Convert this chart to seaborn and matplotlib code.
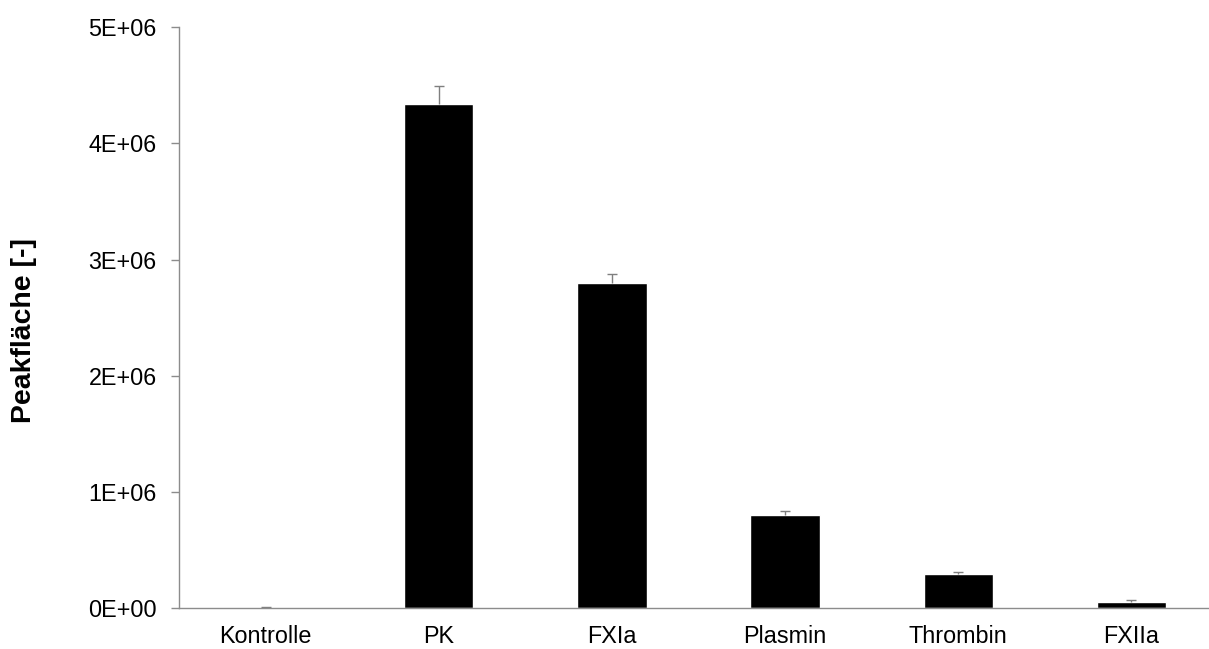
import matplotlib
matplotlib.use("Agg")
import matplotlib.pyplot as plt
from matplotlib.ticker import FixedLocator, FuncFormatter
import numpy as np
import pandas as pd
import seaborn as sns

# Peak areas per protease (mean and upper standard deviation)
categories = ["Kontrolle", "PK", "FXIa", "Plasmin", "Thrombin", "FXIIa"]
peak_area = [3.0e3, 4.338e6, 2.795e6, 0.803e6, 0.295e6, 0.057e6]
peak_sd = [5.0e3, 0.157e6, 0.078e6, 0.037e6, 0.015e6, 0.012e6]
y_ticks = [0, 1e6, 2e6, 3e6, 4e6, 5e6]

sns.set_theme(style="white")
plt.rcParams["font.family"] = ["Liberation Sans", "DejaVu Sans"]

df = pd.DataFrame({"Probe": categories, "Peakfläche": peak_area, "SD": peak_sd})

fig = plt.figure(figsize=(12.09, 6.49), dpi=100)
ax = fig.add_axes([179 / 1209, (649 - 608.3) / 649, (1218 - 179) / 1209, (608.3 - 27) / 649])

sns.barplot(data=df, x="Probe", y="Peakfläche", color="black", width=0.4,
            errorbar=None, saturation=1, ax=ax)

# upper error bars only
x_pos = np.arange(len(categories))
eb = ax.errorbar(x_pos, df["Peakfläche"], yerr=[np.zeros(len(df)), df["SD"]],
                 fmt="none", ecolor="#7f7f7f", elinewidth=1.0, capsize=3.6, capthick=1.0)
eb[1][0].set_visible(False)  # hide the cap at the bar top

axis_grey = "#8c8c8c"
ax.set_xlim(-0.5, len(categories) - 0.5)
ax.set_ylim(0, 5e6)
ax.yaxis.set_major_locator(FixedLocator(y_ticks))
ax.yaxis.set_major_formatter(FuncFormatter(lambda v, p: f"{int(round(v / 1e6))}E+0{6 if v else 0}"))

# category labels at bar centres, tick marks between categories
ax.set_xticks(x_pos)
ax.set_xticklabels(categories)
ax.set_xticks(np.arange(-0.5, len(categories)), minor=True)
ax.tick_params(axis="x", which="major", length=0, pad=12, labelsize=16.8, labelcolor="black")
ax.tick_params(axis="x", which="minor", length=6, width=1, color=axis_grey, direction="out")
ax.tick_params(axis="y", which="major", length=6, width=1, color=axis_grey, direction="out",
               pad=10, labelsize=16.8, labelcolor="black", left=True)

for side in ("top", "right"):
    ax.spines[side].set_visible(False)
for side in ("left", "bottom"):
    ax.spines[side].set_color(axis_grey)
    ax.spines[side].set_linewidth(1.0)

ax.set_xlabel("")
ax.set_ylabel("Peakfläche [-]", fontsize=20.4, fontweight="bold", color="black",
              va="center", ha="center")
ax.yaxis.set_label_coords((24 - 179) / 1039, (608.3 - 330) / 581.3)
ax.grid(False)

fig.savefig("out.png", dpi=100, facecolor="white")
